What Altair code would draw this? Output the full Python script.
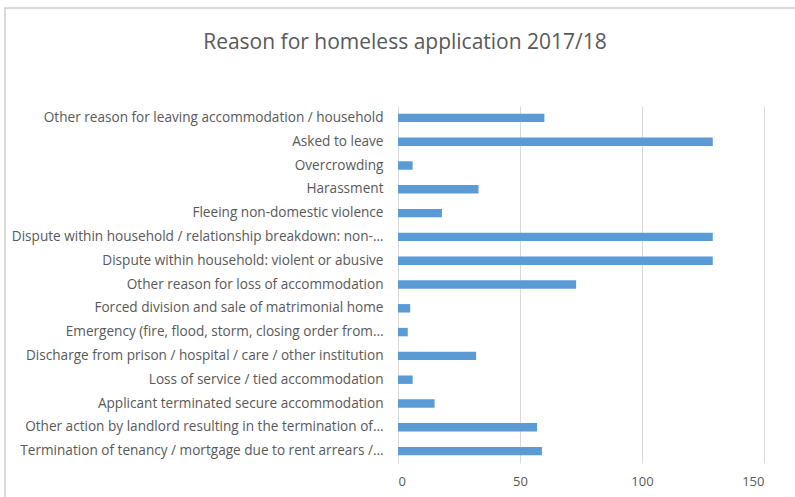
import altair as alt
import pandas as pd

categories = [
    "Other reason for leaving accommodation / household",
    "Asked to leave",
    "Overcrowding",
    "Harassment",
    "Fleeing non-domestic violence",
    "Dispute within household / relationship breakdown: non-…",
    "Dispute within household: violent or abusive",
    "Other reason for loss of accommodation",
    "Forced division and sale of matrimonial home",
    "Emergency (fire, flood, storm, closing order from…",
    "Discharge from prison / hospital / care / other institution",
    "Loss of service / tied accommodation",
    "Applicant terminated secure accommodation",
    "Other action by landlord resulting in the termination of…",
    "Termination of tenancy / mortgage due to rent arrears /…",
]
values = [60, 129, 6, 33, 18, 129, 129, 73, 5, 4, 32, 6, 15, 57, 59]
x_ticks = [0, 50, 100, 150]

df = pd.DataFrame({"reason": categories, "count": values})

FONT = "Open Sans"
TEXT = "#595959"

bars = alt.Chart(df).mark_bar(color="#5b9bd5").encode(
    x=alt.X("count:Q",
            scale=alt.Scale(domain=[0, 150], nice=False),
            axis=alt.Axis(values=x_ticks, title=None, domain=False, ticks=False,
                          grid=True, gridColor="#d9d9d9", gridWidth=1,
                          labelPadding=12, labelFontSize=13, labelColor=TEXT,
                          labelFont=FONT)),
    y=alt.Y("reason:N", sort=categories,
            scale=alt.Scale(paddingInner=0.645, paddingOuter=0.3225),
            axis=alt.Axis(title=None, domain=False, ticks=False,
                          labelPadding=15, labelFontSize=13.6, labelColor=TEXT,
                          labelFont=FONT, labelLimit=400)),
)

border = alt.Chart(df).mark_rect(fill=None, stroke="#d9d9d9", strokeWidth=1.5, clip=False).encode(
    x=alt.value(-393), x2=alt.value(420), y=alt.value(-98), y2=alt.value(420)
)

chart = alt.layer(border, bars).properties(
    width=366, height=357,
    padding={"left": 398, "top": 106, "right": 31, "bottom": 34},
    autosize=alt.AutoSizeParams(type="none"),
    title=alt.TitleParams("Reason for homeless application 2017/18", font=FONT,
                          fontSize=21, fontWeight="normal", color=TEXT,
                          anchor="middle", frame="group", dx=-176, offset=-46),
).configure_view(stroke=None)

chart.save("out.html", embed_options={"renderer": "svg", "actions": False})
